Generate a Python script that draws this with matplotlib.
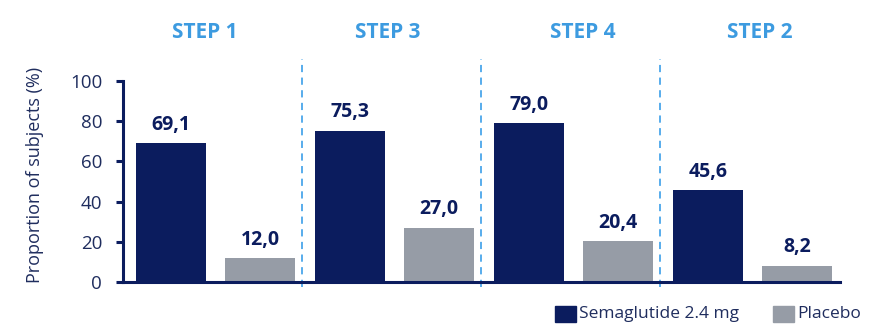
import matplotlib
matplotlib.use("Agg")
import matplotlib.pyplot as plt
from matplotlib.patches import Rectangle
import numpy as np

plt.rcParams['font.family'] = ['Open Sans', 'DejaVu Sans']

studies = ["STEP 1", "STEP 3", "STEP 4", "STEP 2"]
semaglutide = [69.1, 75.3, 79.0, 45.6]
placebo = [12.0, 27.0, 20.4, 8.2]
series_names = ["Semaglutide 2.4 mg", "Placebo"]
y_ticks = [0, 20, 40, 60, 80, 100]

NAVY = "#0b1c5e"
GREY = "#969ca6"
BLUE = "#3d9be0"
DASH = "#4aa6ea"
TEXT = "#1f2d5e"

W, H = 869, 329
fig = plt.figure(figsize=(W / 100, H / 100), dpi=100)
ax = fig.add_axes([123 / W, 47 / H, (840 - 123) / W, 201 / H])

x = np.arange(len(studies))
bw = 0.391
off = 0.2486
b1 = ax.bar(x - off, semaglutide, bw, color=NAVY, zorder=2)
b2 = ax.bar(x + off, placebo, bw, color=GREY, zorder=2)

def fmt(v):
    return f"{v:.1f}".replace(".", ",")

for bars, vals in ((b1, semaglutide), (b2, placebo)):
    for r, v in zip(bars, vals):
        ax.annotate(fmt(v), (r.get_x() + r.get_width() / 2, v),
                    xytext=(0, 6), textcoords="offset points",
                    ha="center", va="bottom", fontsize=14,
                    fontweight="bold", color=NAVY)

# study headings, slightly off the group centres
head_x = [-0.06, -0.04, 0.05, 0.04]
for i, s in enumerate(studies):
    ax.text(i + head_x[i], 124, s, ha="center", va="center", fontsize=15,
            fontweight="bold", color=BLUE, clip_on=False)

for i in range(len(studies) - 1):
    ax.plot([i + 0.485, i + 0.485], [-2.5, 111], color=DASH, lw=1.3,
            ls=(0, (4, 3)), clip_on=False, zorder=1)

ax.set_xlim(-0.517, 3.489)
ax.set_ylim(0, 100)
ax.set_yticks(y_ticks)
ax.set_xticks([])
ax.spines["top"].set_visible(False)
ax.spines["right"].set_visible(False)
for sp in ("left", "bottom"):
    ax.spines[sp].set_color(NAVY)
    ax.spines[sp].set_linewidth(2.2)
ax.tick_params(axis="y", direction="out", length=5, width=2.2, color=NAVY,
               labelsize=13.5, labelcolor=TEXT, pad=10)
ax.set_ylabel("Proportion of subjects (%)", fontsize=13, color=TEXT)
ax.yaxis.set_label_coords(44 / W, (H - 175) / H, transform=fig.transFigure)

# legend drawn in figure pixels
for (x0, name, col) in ((555, series_names[0], NAVY), (773, series_names[1], GREY)):
    fig.patches.append(Rectangle((x0 / W, (H - 322) / H), 21 / W, 16 / H,
                                 transform=fig.transFigure, color=col))
    fig.text((x0 + 24) / W, (H - 314) / H, name, ha="left", va="center",
             fontsize=12.5, color=TEXT)

fig.savefig("out.png", dpi=100)
